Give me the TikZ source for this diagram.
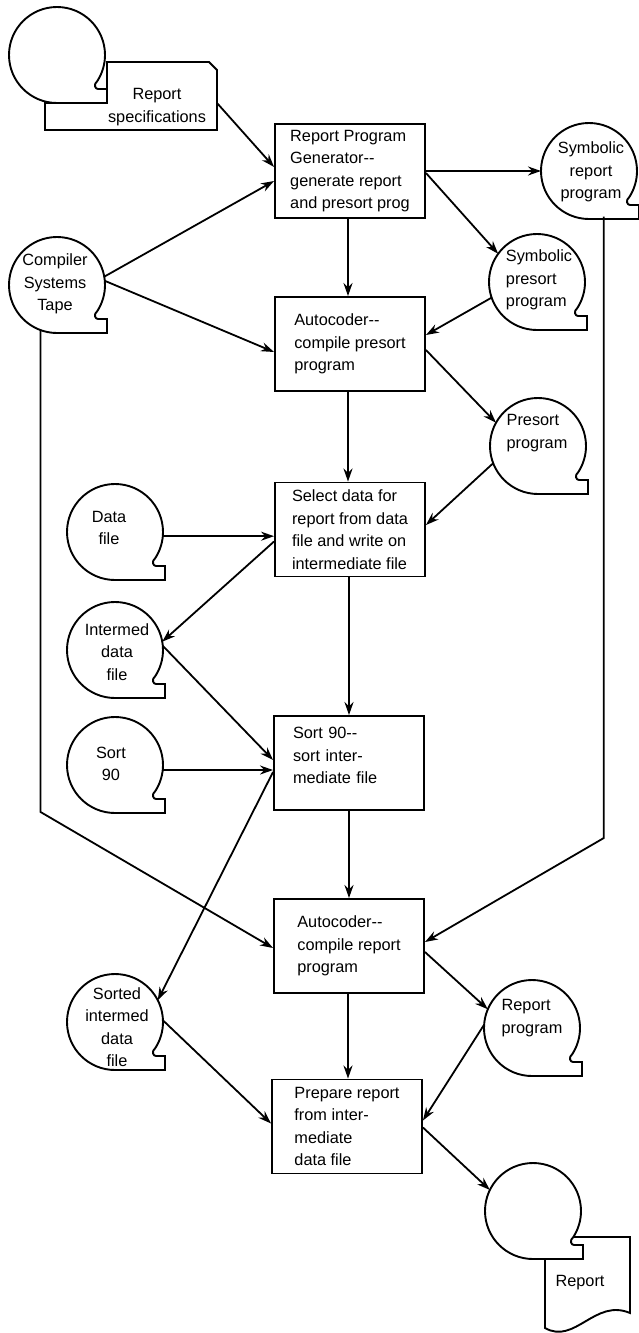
\documentclass[tikz,border=0pt]{standalone}
\usepackage{fontspec}
\setmainfont{Liberation Sans}
\usetikzlibrary{arrows.meta}
\newcommand\diafont{\fontsize{16.3}{22.5}\selectfont}
\newcommand\tapesym[2]{%
  \draw[shapeline] (#1,#2+48) arc[start angle=90,end angle=393,radius=48]
    .. controls +(-4,3) and +(-3,0) .. (#1+41,#2+34) -- (#1+50,#2+34) -- (#1+50,#2+48) -- cycle;}
\begin{document}
\begin{tikzpicture}[x=1pt,y=-1pt,line join=miter,
  shapeline/.style={draw,line width=1.9pt},
  box/.style={draw,line width=1.9pt,minimum width=150pt,minimum height=94pt,align=left,inner sep=2pt,font=\diafont},
  tape/.style={circle,minimum size=96pt,inner sep=0pt,outer sep=0pt},
  lbl/.style={font=\diafont,align=center,inner sep=0pt},
  lbll/.style={font=\diafont,align=left,inner sep=0pt},
  arr/.style={line width=1.8pt,-{Stealth[length=13pt,width=9pt]}}]
\useasboundingbox (0,0) rectangle (638,1333);

% ---- process boxes
\node[box] (rpg) at (350,171) {Report Program\\Generator-{}-\\generate report\\and presort prog};
\node[box] (autop) at (350,344) {Autocoder-{}-\\compile presort\\program};
\node[box] (sel) at (350,529.5) {Select data for\\report from data\\file and write on\\intermediate file};
\node[box,text width=112pt] (sortb) at (349,763) {Sort 90-{}-\\sort inter-\\mediate file\\[-8pt]~};
\node[box] (autor) at (349,946) {Autocoder-{}-\\compile report\\program};
\node[box] (prep) at (347,1126.5) {Prepare report\\from inter-\\mediate\\data file};

% ---- tape symbols (anchor nodes)
\node[tape] (specT) at (57,55) {};
\node[tape] (comp) at (57,285) {};
\node[tape] (symrep) at (589,171) {};
\node[tape] (sympre) at (537,282) {};
\node[tape] (presp) at (538,446) {};
\node[tape] (dataf) at (115,532) {};
\node[tape] (interm) at (115,650) {};
\node[tape] (sort90) at (115,765) {};
\node[tape] (sorted) at (115,1022) {};
\node[tape] (repprog) at (532,1028) {};
\node[tape] (repout) at (533,1211) {};

% report specifications document + tape
\node[minimum width=172pt,minimum height=68pt,inner sep=0pt,outer sep=0pt] (rsdoc) at (131,96) {};
\draw[shapeline] (57,103) -- (45,103) -- (45,130) -- (217,130) -- (217,70) -- (209,62) -- (107,62) -- (107,89);
\tapesym{57}{55}
\node[lbl] (rstext) at (157,107) {Report\\specifications};

% report output document + tape
\node[minimum width=85pt,minimum height=92pt,inner sep=0pt,outer sep=0pt] (rodoc) at (588,1283) {};
\draw[shapeline] (574,1237) -- (630,1237) -- (630,1313) .. controls (595,1298) and (575,1345) .. (545,1328) -- (545,1259);
\tapesym{533}{1211}
\node[lbl] (rotext) at (580,1283) {Report};

\tapesym{57}{285}
\tapesym{589}{171}
\tapesym{537}{282}
\tapesym{538}{446}
\tapesym{115}{532}
\tapesym{115}{650}
\tapesym{115}{765}
\tapesym{115}{1022}
\tapesym{532}{1028}

\node[lbl] (compt) at (55,284) {Compiler\\Systems\\Tape};
\node[lbl] (symrept) at (591,172) {Symbolic\\report\\program};
\node[lbll] (sympret) at (539,280) {Symbolic\\presort\\program};
\node[lbll] (prespt) at (537,433) {Presort\\program};
\node[lbl] (dataft) at (109,528) {Data\\file};
\node[lbl] (intermt) at (117,652) {Intermed\\data\\file};
\node[lbl] (sort90t) at (111,764) {Sort\\90};
\node[lbl] (sortedt) at (117,1027) {Sorted\\intermed\\data\\file};
\node[lbll] (repprogt) at (532,1018) {Report\\program};

% ---- coordinates for bends
\coordinate (bendL) at (41,812);
\coordinate (bendR) at (604,838);

% ---- connectors
\draw[arr] ([yshift=-7pt]rsdoc.east) -- ([yshift=4pt]rpg.west);
\draw[arr] (comp.10) -- ([yshift=-10pt]rpg.west);
\draw[arr] (comp.5) -- ([yshift=-8pt]autop.west);
\draw[arr] ([xshift=-2pt]rpg.south) -- ([xshift=-2pt]rpg.south |- autop.north);
\draw[arr] (rpg.east) -- (symrep.west);
\draw[arr] ([yshift=-2pt]rpg.east) -- (sympre.144);
\draw[arr] (sympre.199) -- ([yshift=9pt]autop.east);
\draw[arr] ([yshift=-6pt]autop.east) -- (presp.151);
\draw[arr] ([xshift=-2pt]autop.south) -- ([xshift=-2pt]autop.south |- sel.north);
\draw[arr] (presp.201) -- ([yshift=4.5pt]sel.east);
\draw[arr] (dataf.355) -- (sel.west |- dataf.355);
\draw[arr] ([yshift=-12pt]sel.west) -- (interm.10);
\draw[arr] (interm.5) -- ([yshift=3pt]sortb.west);
\draw[arr] ([xshift=-1pt]sel.south) -- ([xshift=-1pt]sel.south |- sortb.north);
\draw[arr] (sort90.-6) -- (sortb.west |- sort90.-6);
\draw[arr] ([yshift=-9pt]sortb.west) -- (sorted.27);
\draw[arr] (sortb.south) -- (sortb.south |- autor.north);
\draw[arr] (comp.-110) -- (comp.-110 |- bendL) -- ([yshift=-2pt]autor.west);
\draw[arr] (symrep.-72) -- (symrep.-72 |- bendR) -- ([yshift=4pt]autor.east);
\draw[arr] ([yshift=-6pt]autor.east) -- (repprog.157);
\draw[arr] ([xshift=-1pt]autor.south) -- ([xshift=-1pt]autor.south |- prep.north);
\draw[arr] (repprog.176) -- ([yshift=6pt]prep.east);
\draw[arr] (sorted.2) -- ([yshift=3pt]prep.west);
\draw[arr] ([yshift=-1pt]prep.east) -- (repout.154);
\end{tikzpicture}
\end{document}
